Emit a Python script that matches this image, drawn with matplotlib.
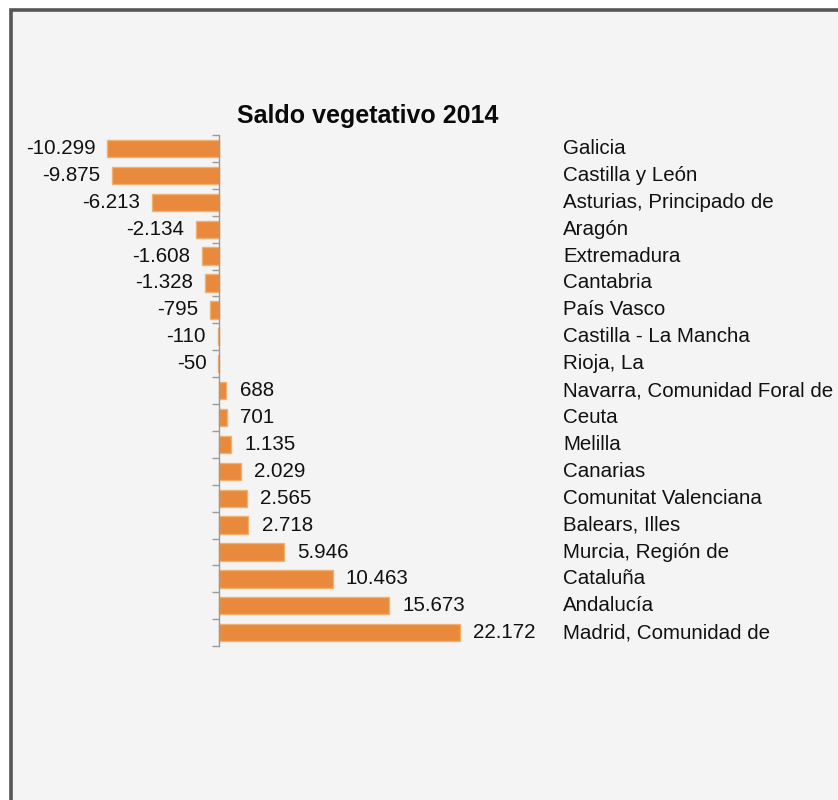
import matplotlib
matplotlib.use("Agg")
import matplotlib.pyplot as plt
import matplotlib.transforms as mtransforms
from matplotlib.patches import Rectangle

plt.rcParams['font.family'] = ['Liberation Sans', 'DejaVu Sans']

regions = ["Galicia", "Castilla y León", "Asturias, Principado de", "Aragón",
           "Extremadura", "Cantabria", "País Vasco", "Castilla - La Mancha",
           "Rioja, La", "Navarra, Comunidad Foral de", "Ceuta", "Melilla",
           "Canarias", "Comunitat Valenciana", "Balears, Illes",
           "Murcia, Región de", "Cataluña", "Andalucía", "Madrid, Comunidad de"]
values = [-10299, -9875, -6213, -2134, -1608, -1328, -795, -110, -50,
          688, 701, 1135, 2029, 2565, 2718, 5946, 10463, 15673, 22172]
value_labels = ["-10.299", "-9.875", "-6.213", "-2.134", "-1.608", "-1.328",
                "-795", "-110", "-50", "688", "701", "1.135", "2.029", "2.565",
                "2.718", "5.946", "10.463", "15.673", "22.172"]

W, H = 838, 800
fig = plt.figure(figsize=(W / 100, H / 100), dpi=100)
fig.patch.set_facecolor("white")

# grey framed panel (only left/top edges visible in the crop)
fig.patches.append(Rectangle((10.5 / W, -0.05), 1.1, (H - 9.5) / H + 0.05,
                             transform=fig.transFigure, facecolor="#f4f4f4",
                             edgecolor="#555555", linewidth=2.6, zorder=-10))

# axes placement: zero at x=219px, scale ~0.01085 px per unit
s = 0.01085
x0_px, x1_px = 100, 480
zero_px = 219
row = 26.9
top_px = 148.5 - row / 2
n = len(values)
ax = fig.add_axes([x0_px / W, (H - top_px - row * n) / H,
                   (x1_px - x0_px) / W, row * n / H])
ax.set_xlim((x0_px - zero_px) / s, (x1_px - zero_px) / s)
ax.set_ylim(n - 0.5, -0.5)
ax.patch.set_alpha(0)

ypos = list(range(n))
ax.barh(ypos, values, height=0.64, color="#e8893b", edgecolor="#f2b071",
        linewidth=1.0, zorder=2)

for sp in ["top", "right", "bottom"]:
    ax.spines[sp].set_visible(False)
ax.spines["left"].set_position(("data", 0))
ax.spines["left"].set_color("#9a9a9a")
ax.spines["left"].set_linewidth(1.0)
ax.set_yticks([i - 0.5 for i in range(n + 1)])
ax.set_yticklabels([])
ax.tick_params(axis="y", direction="out", length=5, color="#9a9a9a", width=1)
ax.set_xticks([])

fs = 14.8
txt = "#111111"
for y, v, lab in zip(ypos, values, value_labels):
    if v < 0:
        ax.annotate(lab, (v, y), xytext=(-8.5, 0), textcoords="offset points",
                    ha="right", va="center", fontsize=fs, color=txt)
    else:
        ax.annotate(lab, (v, y), xytext=(9.5, 0), textcoords="offset points",
                    ha="left", va="center", fontsize=fs, color=txt)

trans = mtransforms.blended_transform_factory(fig.transFigure, ax.transData)
for y, name in zip(ypos, regions):
    ax.text(563 / W, y, name, transform=trans, ha="left", va="center",
            fontsize=fs, color=txt, clip_on=False)

fig.text(368 / W, 1 - 116 / H, "Saldo vegetativo 2014", ha="center",
         va="center", fontsize=18, fontweight="bold", color="#0a0a0a")

fig.savefig("out.png", dpi=100)
